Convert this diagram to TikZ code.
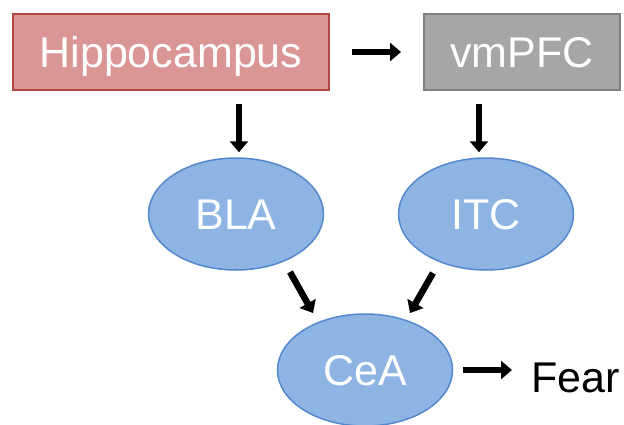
\documentclass[tikz,border=0pt]{standalone}
\usepackage{fontspec}
\setmainfont{Liberation Sans}
\usetikzlibrary{arrows.meta,shapes.geometric,calc}
\definecolor{hipfill}{RGB}{217,150,148}
\definecolor{hipdraw}{RGB}{178,68,66}
\definecolor{vmfill}{RGB}{166,166,166}
\definecolor{vmdraw}{RGB}{128,128,128}
\definecolor{ellfill}{RGB}{142,180,227}
\definecolor{elldraw}{RGB}{84,136,204}
\tikzset{
  lbl/.style={text=white, font=\fontsize{43}{50}\selectfont, text height=31pt, text depth=0pt, inner sep=0pt},
  boxnode/.style={lbl, rectangle, line width=2pt, minimum height=76pt},
  ellnode/.style={lbl, ellipse, fill=ellfill, draw=elldraw, line width=1.5pt, minimum width=175pt, minimum height=112pt},
  arr/.style={line width=6.5pt, -{Triangle[length=11pt,width=18pt]}}
}
\begin{document}
\begin{tikzpicture}[x=1pt,y=-1pt]
\useasboundingbox (0,0) rectangle (624,424);
\node[boxnode, fill=hipfill, draw=hipdraw, minimum width=316pt] (hip) at (171,52) {Hippocampus};
\node[boxnode, fill=vmfill, draw=vmdraw, minimum width=196pt] (vm) at (522,52) {vmPFC};
\node[ellnode] (bla) at (236,214) {BLA};
\node[ellnode] (itc) at (486,214) {ITC};
\node[ellnode] (cea) at (365,370) {CeA};
\node[anchor=base west, inner sep=0pt, font=\fontsize{43}{50}\selectfont] (fear) at (531,392) {Fear};
\draw[arr, shorten <=22pt, shorten >=22pt] (hip.east) -- (vm.west);
\draw[arr, shorten <=13pt, shorten >=5pt] ([xshift=3pt]bla.north |- hip.south) -- ([xshift=3pt]bla.north);
\draw[arr, shorten <=13pt, shorten >=5pt] ([xshift=-7pt]itc.north |- vm.south) -- ([xshift=-7pt]itc.north);
\draw[arr] ([shift={(54pt,-58pt)}]bla.center) -- ([shift={(-52pt,57pt)}]cea.center);
\draw[arr] ([shift={(-53pt,-59pt)}]itc.center) -- ([shift={(45pt,57pt)}]cea.center);
\draw[arr, shorten <=10pt, shorten >=19pt] (cea.east) -- (fear.west |- cea.east);
\end{tikzpicture}
\end{document}
